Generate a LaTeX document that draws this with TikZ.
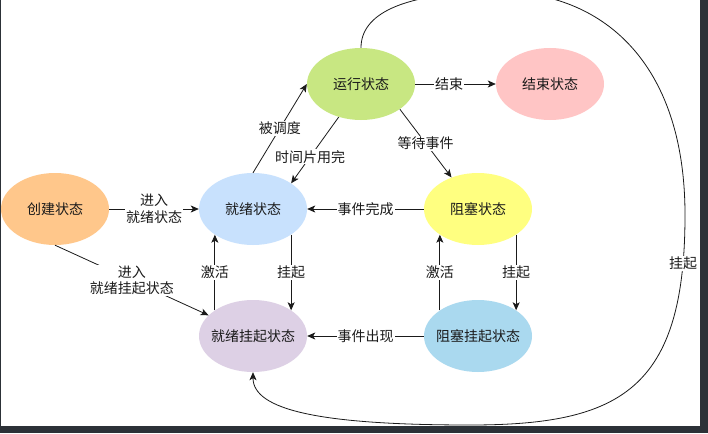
\documentclass[tikz,border=0pt]{standalone}
\usepackage{fontspec}
\setmainfont{Noto Sans CJK SC}
\usetikzlibrary{arrows.meta,shapes.geometric}
\definecolor{cCreate}{HTML}{FFC78B}
\definecolor{cReady}{HTML}{C8E1FD}
\definecolor{cRun}{HTML}{C8E782}
\definecolor{cEnd}{HTML}{FFC5C5}
\definecolor{cBlock}{HTML}{FFFF80}
\definecolor{cRS}{HTML}{DDD0E5}
\definecolor{cBS}{HTML}{AAD9EF}
\definecolor{frame}{HTML}{2C3137}
\definecolor{ink}{HTML}{1A1A1A}
\newcommand{\ctext}[1]{\makebox[0pt][c]{#1}}
\tikzset{
  state/.style={ellipse, minimum width=108pt, minimum height=72pt, inner sep=0pt, draw=none, text=ink, font=\fontsize{14}{17}\selectfont},
  conn/.style={line width=0.8pt, draw=ink, -{Stealth[length=8pt,width=7pt,inset=2pt]}},
  lbl/.style={fill=white, inner sep=1pt, text=ink, font=\fontsize{14}{16.5}\selectfont, align=center},
}
\begin{document}
\begin{tikzpicture}[x=1pt,y=-1pt]
\useasboundingbox (0,0) rectangle (708,433);
\fill[white] (0,0) rectangle (708,433);
\begin{scope}
\clip (0,0) rectangle (708,433);
\node[state, fill=cCreate] (create) at (55,209) {\ctext{创建状态}};
\node[state, fill=cReady] (ready) at (253,209) {\ctext{就绪状态}};
\node[state, fill=cRun] (run) at (361,84) {\ctext{运行状态}};
\node[state, fill=cEnd] (end) at (550,84) {\ctext{结束状态}};
\node[state, fill=cBlock] (block) at (478,209) {\ctext{阻塞状态}};
\node[state, fill=cRS] (rs) at (253,336) {\ctext{就绪挂起状态}};
\node[state, fill=cBS] (bs) at (478,336) {\ctext{阻塞挂起状态}};

\draw[conn] (create.east) -- node[lbl] {进入\\就绪状态} (ready.west);
\draw[conn] (create.south) -- node[lbl] {进入\\就绪挂起状态} (rs.155);
\draw[conn] (ready.north) -- node[lbl] {被调度} (run.west);
\draw[conn] (run.236) -- node[lbl, pos=0.6] {时间片用完} (ready.34);
\draw[conn] (run.east) -- node[lbl, pos=0.42] {结束} (end.west);
\draw[conn] (run.-33) -- node[lbl] {等待事件} (block.130);
\draw[conn] (block.west) -- node[lbl] {事件完成} (ready.east);
\draw[conn] (ready.-34) -- node[lbl] {挂起} (rs.34);
\draw[conn] (rs.146) -- node[lbl] {激活} (ready.214);
\draw[conn] (block.-34) -- node[lbl] {挂起} (bs.34);
\draw[conn] (bs.146) -- node[lbl] {激活} (block.214);
\draw[conn] (bs.west) -- node[lbl] {事件出现} (rs.east);
\draw[conn] (run.north) .. controls (361,15) and (400,-8) .. (500,-8)
  .. controls (600,-8) and (685,60) .. (685,215)
  .. controls (685,390) and (620,425) .. node[lbl, pos=0.1] {挂起} (470,425)
  .. controls (320,425) and (253,410) .. (rs.south);
\end{scope}
\fill[frame] (700,0) rectangle (708,433);
\fill[frame] (0,426) rectangle (708,433);
\fill[frame] (0,0) rectangle (1,426);
\end{tikzpicture}
\end{document}
